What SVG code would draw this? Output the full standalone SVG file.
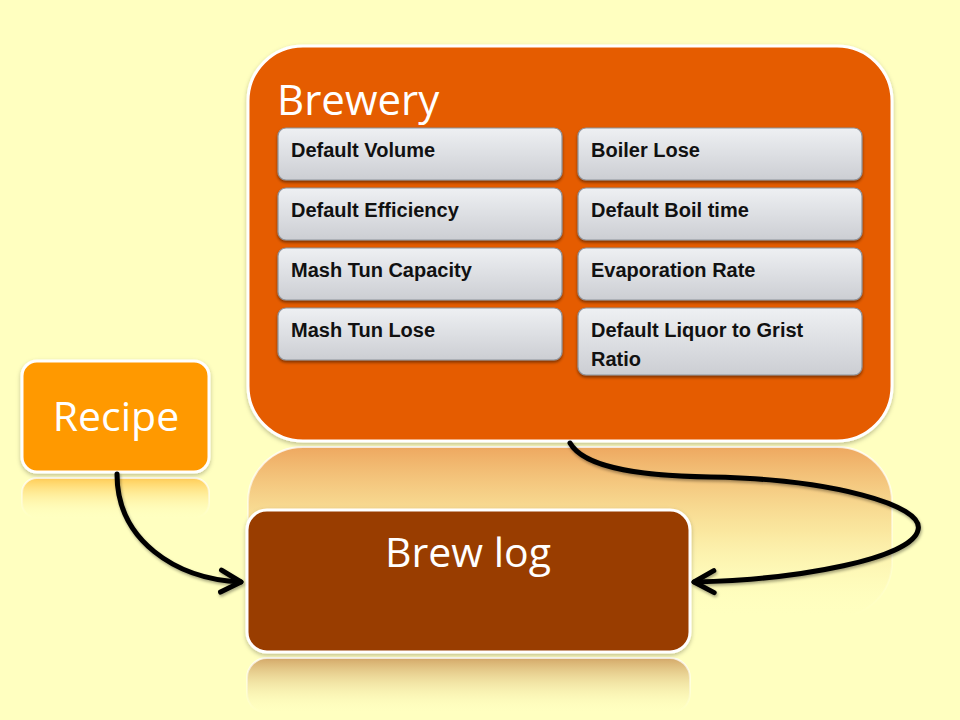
<svg xmlns="http://www.w3.org/2000/svg" width="960" height="720" viewBox="0 0 960 720">
<defs>
<style>
.title{font-family:"Open Sans","Liberation Sans",sans-serif;fill:#fff}
.lbl{font-family:"Liberation Sans",Arial,sans-serif;font-weight:bold;font-size:20px;fill:#111}
.item{fill:url(#gItem);stroke:#8d939c;stroke-width:1.2;filter:url(#sh)}
.conn{fill:none;stroke:#000;stroke-width:5;stroke-linecap:round;marker-end:url(#chev);filter:url(#csh)}
</style>
<linearGradient id="gItem" x1="0" y1="0" x2="0" y2="1">
<stop offset="0" stop-color="#eef0f3"/><stop offset="1" stop-color="#ccced3"/>
</linearGradient>
<linearGradient id="gRefBrew" x1="0" y1="0" x2="0" y2="1">
<stop offset="0" stop-color="#eea860"/><stop offset="0.5" stop-color="#f7d88a" stop-opacity="0.6"/><stop offset="1" stop-color="#ffffc0" stop-opacity="0"/>
</linearGradient>
<linearGradient id="gRefRec" x1="0" y1="0" x2="0" y2="1">
<stop offset="0" stop-color="#ffcc55"/><stop offset="1" stop-color="#ffffc0" stop-opacity="0"/>
</linearGradient>
<linearGradient id="gRefLog" x1="0" y1="0" x2="0" y2="1">
<stop offset="0" stop-color="#d4a868"/><stop offset="1" stop-color="#ffffc0" stop-opacity="0"/>
</linearGradient>
<linearGradient id="gRefStroke" x1="0" y1="0" x2="0" y2="1">
<stop offset="0" stop-color="#fff" stop-opacity="0.8"/><stop offset="1" stop-color="#fff" stop-opacity="0"/>
</linearGradient>
<filter id="sh" x="-10%" y="-20%" width="120%" height="150%">
<feDropShadow dx="0" dy="2" stdDeviation="1.5" flood-color="#000" flood-opacity="0.45"/>
</filter>
<filter id="bsh" x="-10%" y="-10%" width="120%" height="130%">
<feDropShadow dx="0" dy="2" stdDeviation="2" flood-color="#000" flood-opacity="0.25"/>
</filter>
<filter id="csh" x="-20%" y="-20%" width="140%" height="140%">
<feDropShadow dx="1" dy="2" stdDeviation="1.5" flood-color="#000" flood-opacity="0.35"/>
</filter>
<marker id="chev" markerUnits="userSpaceOnUse" viewBox="-4 -4 30 30" refX="20" refY="11" markerWidth="30" markerHeight="30" orient="auto">
<path d="M0,0 L20,11 L0,22" fill="none" stroke="#000" stroke-width="5" stroke-linecap="round" stroke-linejoin="round"/>
</marker>
</defs>
<rect x="0" y="0" width="960" height="720" fill="#ffffc0"/>

<g id="reflections">
<rect x="248" y="447" width="644" height="170" rx="55" fill="url(#gRefBrew)" stroke="url(#gRefStroke)" stroke-width="2"/>
<rect x="22" y="478" width="187" height="40" rx="15" fill="url(#gRefRec)" stroke="url(#gRefStroke)" stroke-width="2"/>
<rect x="247" y="658" width="443" height="55" rx="20" fill="url(#gRefLog)" stroke="url(#gRefStroke)" stroke-width="2"/>
</g>

<g id="brewery">
<rect x="248" y="46" width="644" height="395" rx="55" fill="#e55b00" stroke="#fff" stroke-width="3" filter="url(#bsh)"/>
<text class="title" x="277" y="115" font-size="42">Brewery</text>
</g>
<g id="default-volume"><rect class="item" x="278" y="128" width="284" height="52" rx="8"/><text class="lbl" x="291" y="157">Default Volume</text></g>
<g id="default-efficiency"><rect class="item" x="278" y="188" width="284" height="52" rx="8"/><text class="lbl" x="291" y="217">Default Efficiency</text></g>
<g id="mash-tun-capacity"><rect class="item" x="278" y="248" width="284" height="52" rx="8"/><text class="lbl" x="291" y="277">Mash Tun Capacity</text></g>
<g id="mash-tun-lose"><rect class="item" x="278" y="308" width="284" height="52" rx="8"/><text class="lbl" x="291" y="337">Mash Tun Lose</text></g>
<g id="boiler-lose"><rect class="item" x="578" y="128" width="284" height="52" rx="8"/><text class="lbl" x="591" y="157">Boiler Lose</text></g>
<g id="default-boil-time"><rect class="item" x="578" y="188" width="284" height="52" rx="8"/><text class="lbl" x="591" y="217">Default Boil time</text></g>
<g id="evaporation-rate"><rect class="item" x="578" y="248" width="284" height="52" rx="8"/><text class="lbl" x="591" y="277">Evaporation Rate</text></g>
<g id="liquor-ratio"><rect class="item" x="578" y="308" width="284" height="67" rx="8"/><text class="lbl" x="591" y="337">Default Liquor to Grist</text><text class="lbl" x="591" y="366">Ratio</text></g>

<g id="recipe">
<rect x="22" y="361" width="187" height="111" rx="15" fill="#ff9900" stroke="#fff" stroke-width="3" filter="url(#bsh)"/>
<text class="title" x="116" y="431" font-size="41" text-anchor="middle">Recipe</text>
</g>

<g id="brew-log">
<rect x="247" y="510" width="443" height="142" rx="20" fill="#993d00" stroke="#fff" stroke-width="3" filter="url(#bsh)"/>
<text class="title" x="468" y="567" font-size="41" text-anchor="middle">Brew log</text>
</g>

<g id="connectors">
<path class="conn" d="M117,474 C117,540 175,579 241,582"/>
<path class="conn" d="M570,443 C585,470 650,476 710,477 C830,479 925,505 918,530 C912,558 800,580 694,582"/>
</g>
</svg>
